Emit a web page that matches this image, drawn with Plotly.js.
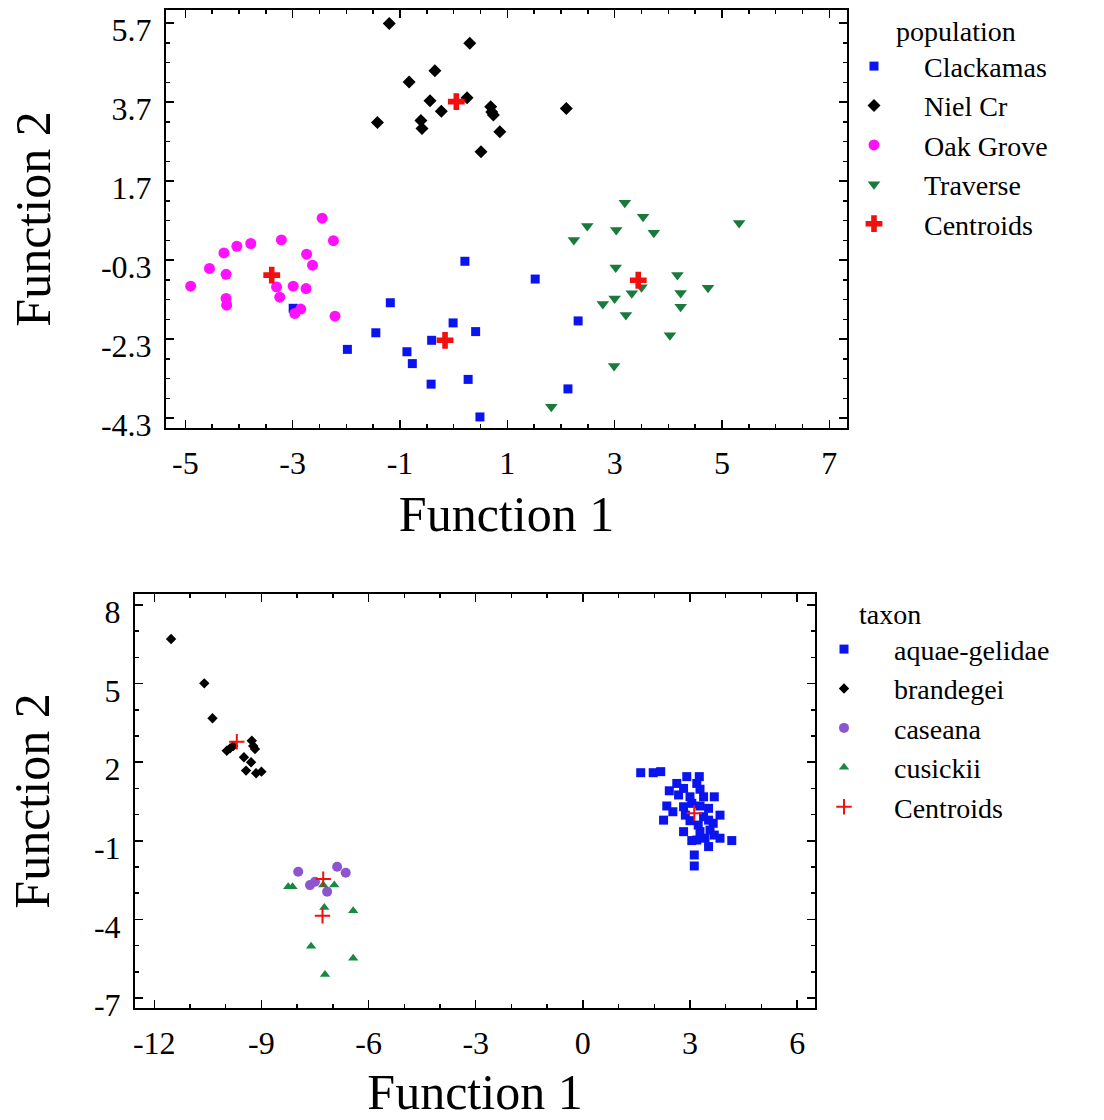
<!DOCTYPE html>
<html>
<head>
<meta charset="utf-8">
<script src="https://cdn.plot.ly/plotly-3.0.1.min.js"></script>
<style>html,body{margin:0;padding:0;background:#fff}#chart{width:1104px;height:1120px}</style>
</head>
<body>
<div id="chart"></div>
<script>
// ---------- Top panel: population ----------
var clackamasX = [0.21, -1.18, -0.01, 0.41, -1.45, -0.41, -1.98, -0.87, -0.77, -0.42, 0.27, 0.49, 1.52, 2.32, 2.13, -2.99];
var clackamasY = [-0.33, -1.38, -1.89, -2.11, -2.14, -2.33, -2.56, -2.62, -2.92, -3.44, -3.32, -4.27, -0.78, -1.84, -3.56, -1.52];
var nielX = [-1.20, 0.30, -0.35, -0.83, -0.44, 0.25, -0.23, -1.42, -0.61, -0.59, 0.69, 0.71, 0.74, 0.86, 0.51, 2.10];
var nielY = [5.69, 5.19, 4.49, 4.21, 3.73, 3.81, 3.47, 3.18, 3.23, 3.03, 3.58, 3.45, 3.37, 2.95, 2.44, 3.54];
var oakX = [-2.45, -2.24, -3.21, -3.78, -4.04, -4.28, -4.55, -4.24, -4.90, -2.74, -2.63, -3.30, -3.24, -2.99, -2.75, -4.24, -4.23, -2.85, -2.96, -2.21];
var oakY = [0.76, 0.19, 0.21, 0.12, 0.05, -0.12, -0.51, -0.66, -0.96, -0.15, -0.43, -0.98, -1.24, -0.96, -1.02, -1.27, -1.44, -1.54, -1.65, -1.72];
var traverseX = [3.19, 3.53, 2.49, 3.03, 3.73, 2.24, 5.32, 3.02, 4.17, 3.50, 4.23, 4.74, 3.32, 3.00, 2.78, 4.23, 3.21, 4.03, 2.99, 1.82];
var traverseY = [1.15, 0.80, 0.56, 0.46, 0.39, 0.21, 0.64, -0.49, -0.68, -0.99, -1.13, -1.00, -1.14, -1.27, -1.41, -1.48, -1.69, -2.20, -2.98, -4.01];
var popCentroidX = [-0.16, 0.05, -3.39, 3.44];
var popCentroidY = [-2.33, 3.71, -0.68, -0.81];
var popXTicks = [-5, -3, -1, 1, 3, 5, 7];
var popYTicks = [-4.3, -2.3, -0.3, 1.7, 3.7, 5.7];

// ---------- Bottom panel: taxon ----------
var aquaeX = [1.62, 1.97, 2.18, 2.91, 3.26, 2.63, 3.19, 2.42, 2.82, 3.28, 2.68, 3.00, 3.38, 3.68, 2.35, 2.52, 2.82, 3.28, 3.52, 2.87, 3.38, 3.84, 2.26, 3.00, 3.23, 3.65, 2.82, 3.28, 3.56, 3.84, 3.42, 3.05, 4.17, 3.52, 3.12, 3.12, 3.05, 3.52, 3.19, 3.68];
var aquaeY = [1.60, 1.60, 1.64, 1.45, 1.45, 1.19, 1.19, 0.91, 1.00, 0.97, 0.75, 0.68, 0.68, 0.68, 0.33, 0.11, 0.30, 0.33, 0.24, -0.02, -0.08, -0.02, -0.21, -0.23, -0.40, -0.33, -0.65, -0.65, -0.59, -0.90, -0.90, -0.99, -0.99, -1.22, -1.54, -1.96, 0.43, -0.21, -0.97, -0.78];
var brandegeiX = [-11.53, -10.60, -10.37, -9.97, -9.88, -9.79, -9.27, -9.23, -9.18, -9.49, -9.29, -9.43, -9.15, -9.00];
var brandegeiY = [6.70, 5.01, 3.68, 2.44, 2.53, 2.62, 2.82, 2.62, 2.50, 2.19, 2.00, 1.68, 1.58, 1.64];
var caseanaX = [-7.97, -6.88, -6.64, -7.64, -7.50, -7.16];
var caseanaY = [-2.18, -1.99, -2.22, -2.69, -2.56, -2.94];
var cusickiiX = [-8.25, -8.13, -7.27, -6.96, -7.24, -6.43, -7.61, -6.43, -7.22];
var cusickiiY = [-2.75, -2.75, -2.69, -2.69, -3.54, -3.67, -5.02, -5.48, -6.10];
var taxCentroidX = [3.12, -9.69, -7.27, -7.29];
var taxCentroidY = [0.05, 2.78, -2.46, -3.86];
var taxXTicks = [-12, -9, -6, -3, 0, 3, 6];
var taxYTicks = [-7, -4, -1, 2, 5, 8];

var serif = 'Liberation Serif, Times New Roman, serif';

var traces = [
  {x: clackamasX, y: clackamasY, name: 'Clackamas', type: 'scatter', mode: 'markers', xaxis: 'x', yaxis: 'y', legend: 'legend',
   marker: {symbol: 'square', size: 9, color: '#0a14f0'}},
  {x: nielX, y: nielY, name: 'Niel Cr', type: 'scatter', mode: 'markers', xaxis: 'x', yaxis: 'y', legend: 'legend',
   marker: {symbol: 'diamond', size: 10, color: '#000000'}},
  {x: oakX, y: oakY, name: 'Oak Grove', type: 'scatter', mode: 'markers', xaxis: 'x', yaxis: 'y', legend: 'legend',
   marker: {symbol: 'circle', size: 11, color: '#ff10ff'}},
  {x: traverseX, y: traverseY, name: 'Traverse', type: 'scatter', mode: 'markers', xaxis: 'x', yaxis: 'y', legend: 'legend',
   marker: {symbol: 'triangle-down', size: 11, color: '#1a7a3c'}},
  {x: popCentroidX, y: popCentroidY, name: 'Centroids', type: 'scatter', mode: 'markers', xaxis: 'x', yaxis: 'y', legend: 'legend',
   marker: {symbol: 'cross', size: 14, color: '#f01010'}},

  {x: aquaeX, y: aquaeY, name: 'aquae-gelidae', type: 'scatter', mode: 'markers', xaxis: 'x2', yaxis: 'y2', legend: 'legend2',
   marker: {symbol: 'square', size: 9, color: '#0a14f0'}},
  {x: brandegeiX, y: brandegeiY, name: 'brandegei', type: 'scatter', mode: 'markers', xaxis: 'x2', yaxis: 'y2', legend: 'legend2',
   marker: {symbol: 'diamond', size: 8, color: '#000000'}},
  {x: caseanaX, y: caseanaY, name: 'caseana', type: 'scatter', mode: 'markers', xaxis: 'x2', yaxis: 'y2', legend: 'legend2',
   marker: {symbol: 'circle', size: 10, color: '#8c55d2'}},
  {x: cusickiiX, y: cusickiiY, name: 'cusickii', type: 'scatter', mode: 'markers', xaxis: 'x2', yaxis: 'y2', legend: 'legend2',
   marker: {symbol: 'triangle-up', size: 9, color: '#168a3e'}},
  {x: taxCentroidX, y: taxCentroidY, name: 'Centroids', type: 'scatter', mode: 'markers', xaxis: 'x2', yaxis: 'y2', legend: 'legend2',
   marker: {symbol: 'cross-thin-open', size: 11, color: '#f01010', line: {color: '#f01010', width: 2}}}
];

function axis(extra) {
  var base = {
    showline: true, linecolor: '#000', linewidth: 2, mirror: 'allticks',
    ticks: 'inside', ticklen: 8, tickwidth: 1.5, tickcolor: '#000',
    showgrid: false, zeroline: false, tickmode: 'array',
    tickfont: {family: serif, size: 32, color: '#000'},
    ticklabelstandoff: 6, ticklabeloverflow: 'allow'
  };
  for (var k in extra) base[k] = extra[k];
  return base;
}

var W = 1104, H = 1120;
var layout = {
  width: W, height: H,
  paper_bgcolor: '#fff', plot_bgcolor: '#fff',
  margin: {l: 0, r: 0, t: 0, b: 0},
  showlegend: true,
  xaxis: axis({domain: [166 / W, 847 / W], range: [-5.36, 7.33], tickvals: popXTicks, ticktext: popXTicks.map(String),
    minor: {ticks: 'inside', ticklen: 4, dtick: 0.5, tick0: 0, tickcolor: '#000', tickwidth: 1.5},
    title: {text: 'Function 1', font: {family: serif, size: 50, color: '#000'}, standoff: 16}, anchor: 'y'}),
  yaxis: axis({domain: [1 - 428 / H, 1 - 10 / H], range: [-4.55, 6.03], tickvals: popYTicks, ticktext: popYTicks.map(function (v) { return v.toFixed(1); }),
    ticklabelshift: 7,
    minor: {ticks: 'inside', ticklen: 4, dtick: 0.5, tick0: -4.3, tickcolor: '#000', tickwidth: 1.5},
    title: {text: 'Function 2', font: {family: serif, size: 50, color: '#000'}, standoff: 34}, anchor: 'x'}),
  xaxis2: axis({domain: [135 / W, 815 / W], range: [-12.54, 6.50], tickvals: taxXTicks, ticktext: taxXTicks.map(String),
    minor: {ticks: 'inside', ticklen: 4, dtick: 1, tick0: 0, tickcolor: '#000', tickwidth: 1.5},
    title: {text: 'Function 1', font: {family: serif, size: 50, color: '#000'}, standoff: 14}, anchor: 'y2'}),
  yaxis2: axis({domain: [1 - 1008 / H, 1 - 594 / H], range: [-7.38, 8.42], tickvals: taxYTicks, ticktext: taxYTicks.map(String),
    ticklabelshift: 7,
    minor: {ticks: 'inside', ticklen: 4, dtick: 1, tick0: 0, tickcolor: '#000', tickwidth: 1.5},
    title: {text: 'Function 2', font: {family: serif, size: 50, color: '#000'}, standoff: 28}, anchor: 'x2'}),
  legend: {
    x: 824 / W, xanchor: 'left', y: 1 - 5 / H, yanchor: 'top',
    bgcolor: 'rgba(0,0,0,0)', borderwidth: 0,
    font: {family: serif, size: 28, color: '#000'},
    title: {text: '&nbsp;&nbsp;&nbsp;&nbsp;&nbsp;&nbsp;&nbsp;&nbsp;&nbsp;&nbsp;population', font: {family: serif, size: 28, color: '#000'}},
    itemsizing: 'trace', itemwidth: 90, tracegroupgap: 0
  },
  legend2: {
    x: 794 / W, xanchor: 'left', y: 1 - 588 / H, yanchor: 'top',
    bgcolor: 'rgba(0,0,0,0)', borderwidth: 0,
    font: {family: serif, size: 28, color: '#000'},
    title: {text: '&nbsp;&nbsp;&nbsp;&nbsp;&nbsp;&nbsp;&nbsp;&nbsp;&nbsp;taxon', font: {family: serif, size: 28, color: '#000'}},
    itemsizing: 'trace', itemwidth: 90, tracegroupgap: 0
  }
};

Plotly.newPlot('chart', traces, layout, {displayModeBar: false, staticPlot: true});
</script>
</body>
</html>
